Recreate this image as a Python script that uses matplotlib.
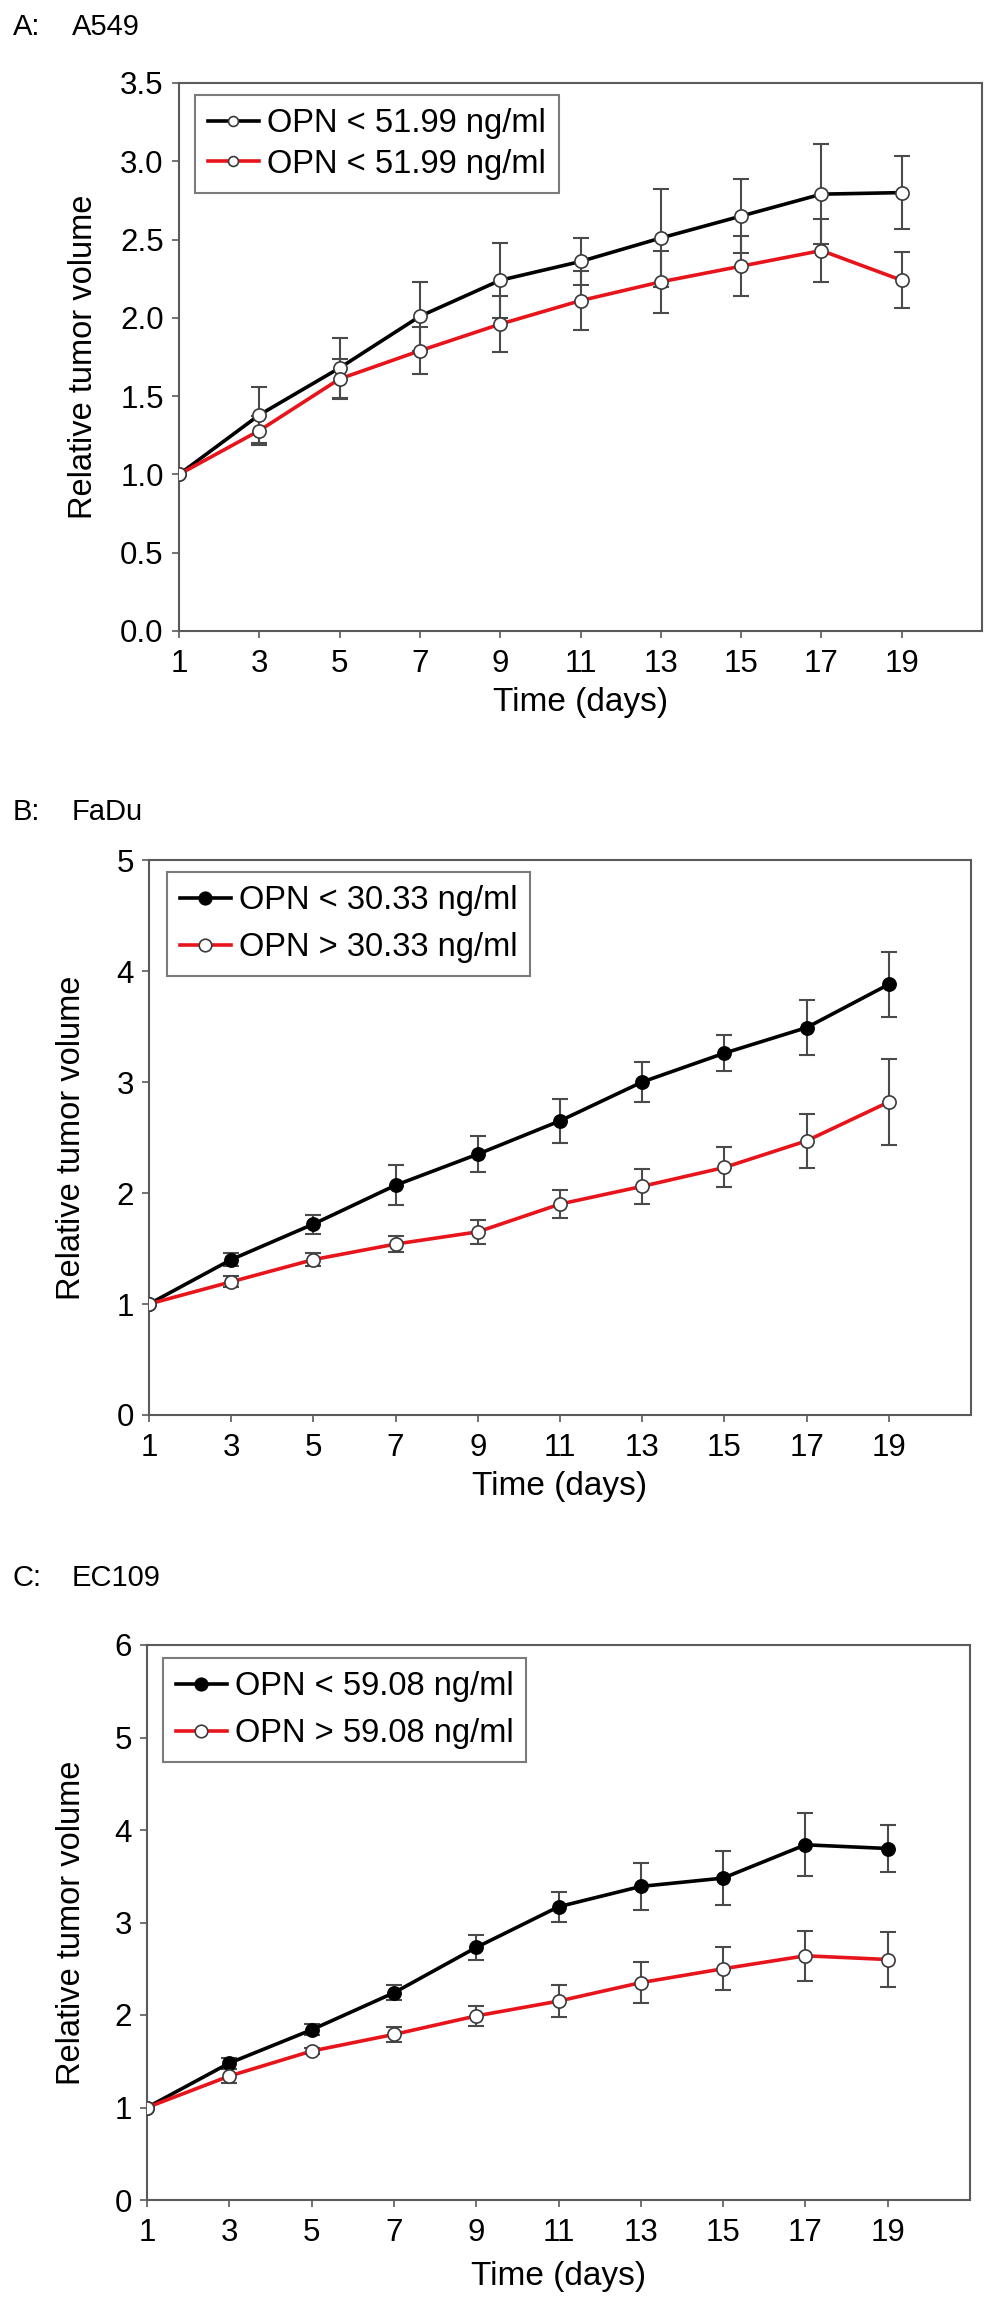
import matplotlib
matplotlib.use('Agg')
import matplotlib.pyplot as plt

plt.rcParams['font.family'] = ['Liberation Sans', 'DejaVu Sans']

# ====================================================================
# data
# ====================================================================
days = [1, 3, 5, 7, 9, 11, 13, 15, 17, 19]

a_low = [1.00, 1.38, 1.68, 2.01, 2.24, 2.36, 2.51, 2.65, 2.79, 2.80]
a_low_err = [0, 0.18, 0.19, 0.22, 0.24, 0.15, 0.31, 0.235, 0.32, 0.235]
a_high = [1.00, 1.28, 1.61, 1.79, 1.96, 2.11, 2.23, 2.33, 2.43, 2.24]
a_high_err = [0, 0.09, 0.13, 0.15, 0.18, 0.19, 0.20, 0.19, 0.20, 0.18]

b_low = [1.00, 1.40, 1.72, 2.07, 2.35, 2.65, 3.00, 3.26, 3.49, 3.88]
b_low_err = [0, 0.06, 0.085, 0.18, 0.16, 0.20, 0.18, 0.165, 0.25, 0.29]
b_high = [1.00, 1.20, 1.40, 1.54, 1.65, 1.90, 2.06, 2.23, 2.47, 2.82]
b_high_err = [0, 0.05, 0.055, 0.07, 0.11, 0.125, 0.155, 0.18, 0.245, 0.39]

c_low = [1.00, 1.48, 1.84, 2.24, 2.73, 3.17, 3.39, 3.48, 3.84, 3.80]
c_low_err = [0, 0.06, 0.06, 0.08, 0.13, 0.165, 0.25, 0.29, 0.34, 0.25]
c_high = [1.00, 1.34, 1.61, 1.79, 1.99, 2.15, 2.35, 2.50, 2.64, 2.60]
c_high_err = [0, 0.08, 0.03, 0.08, 0.11, 0.17, 0.22, 0.23, 0.27, 0.30]

panels = [
    # letter, name, low series, high series, labels, y max, y step, y fmt, filled low marker
    ('A:', 'A549', a_low, a_low_err, a_high, a_high_err,
     ['OPN < 51.99 ng/ml', 'OPN < 51.99 ng/ml'], 3.5, 0.5, '{:.1f}', False),
    ('B:', 'FaDu', b_low, b_low_err, b_high, b_high_err,
     ['OPN < 30.33 ng/ml', 'OPN > 30.33 ng/ml'], 5, 1, '{:.0f}', True),
    ('C:', 'EC109', c_low, c_low_err, c_high, c_high_err,
     ['OPN < 59.08 ng/ml', 'OPN > 59.08 ng/ml'], 6, 1, '{:.0f}', True),
]

# pixel boxes of the axes (left, right, top, bottom), panel label y, ylabel x
W, H = 998, 2308
boxes = [(179, 982, 83, 631), (149, 971, 860, 1415), (147, 970, 1645, 2200)]
label_y = [27, 812, 1578]
ylabel_x = [99, 87, 87]
legend_boxes = [(195, 95), (167, 872), (163, 1658)]
legend_spacing = [0.3, 0.5, 0.5]
legend_mscale = [0.75, 0.95, 0.95]
xlabel_pad = [6, 6, 9]

GRAY = '#5a5a5a'
EDGE = '#3a3a3a'
fig = plt.figure(figsize=(W / 100, H / 100), dpi=100)

for i, (letter, name, low, low_err, high, high_err, labels, ymax, ystep, yfmt, filled) in enumerate(panels):
    l, r, t, b = boxes[i]
    ax = fig.add_axes([l / W, 1 - b / H, (r - l) / W, (b - t) / H])

    # error bars
    for vals, errs in [(low, low_err), (high, high_err)]:
        ax.errorbar(days, vals, yerr=errs, fmt='none', ecolor='#4a4a4a',
                    elinewidth=1.5, capsize=5.5, capthick=1.5, zorder=2)

    ax.plot(days, low, color='black', lw=2.6, marker='o', markersize=9.5,
            markerfacecolor='black' if filled else 'white',
            markeredgecolor='black' if filled else EDGE,
            markeredgewidth=1.2, label=labels[0], zorder=3)
    ax.plot(days, high, color='#e8141b', lw=2.6, marker='o', markersize=9.5,
            markerfacecolor='white', markeredgecolor=EDGE,
            markeredgewidth=1.2, label=labels[1], zorder=3)

    ax.set_xlim(1, 21)
    ax.set_ylim(0, ymax)
    ax.set_xticks(days)
    ax.set_xticklabels([str(d) for d in days])
    yt = [k * ystep for k in range(int(round(ymax / ystep)) + 1)]
    ax.set_yticks(yt)
    ax.set_yticklabels([yfmt.format(v) for v in yt])

    for s in ax.spines.values():
        s.set_color(GRAY)
        s.set_linewidth(1.5)
    ax.tick_params(axis='both', direction='out', length=5, width=1.2,
                   color=GRAY, labelsize=22.5, pad=6)
    ax.tick_params(axis='x', pad=8)

    ax.set_xlabel('Time (days)', fontsize=24, labelpad=xlabel_pad[i])
    ax.set_ylabel('Relative tumor volume', fontsize=23.5)
    ax.yaxis.set_label_coords((ylabel_x[i] - l) / (r - l), 0.5)

    lgx, lgy = legend_boxes[i]
    leg = ax.legend(loc='upper left',
                    bbox_to_anchor=((lgx - l) / (r - l), (b - lgy) / (b - t)),
                    borderaxespad=0, fontsize=23.5, frameon=True, fancybox=False,
                    handlelength=1.55, handletextpad=0.25,
                    labelspacing=legend_spacing[i], borderpad=0.4,
                    markerscale=legend_mscale[i])
    leg.get_frame().set_edgecolor(GRAY)
    leg.get_frame().set_linewidth(1.5)

    fig.text(13 / W, 1 - label_y[i] / H, letter, fontsize=21, va='center', ha='left')
    fig.text(72 / W, 1 - label_y[i] / H, name, fontsize=21, va='center', ha='left')

fig.savefig('out.png', dpi=100)
